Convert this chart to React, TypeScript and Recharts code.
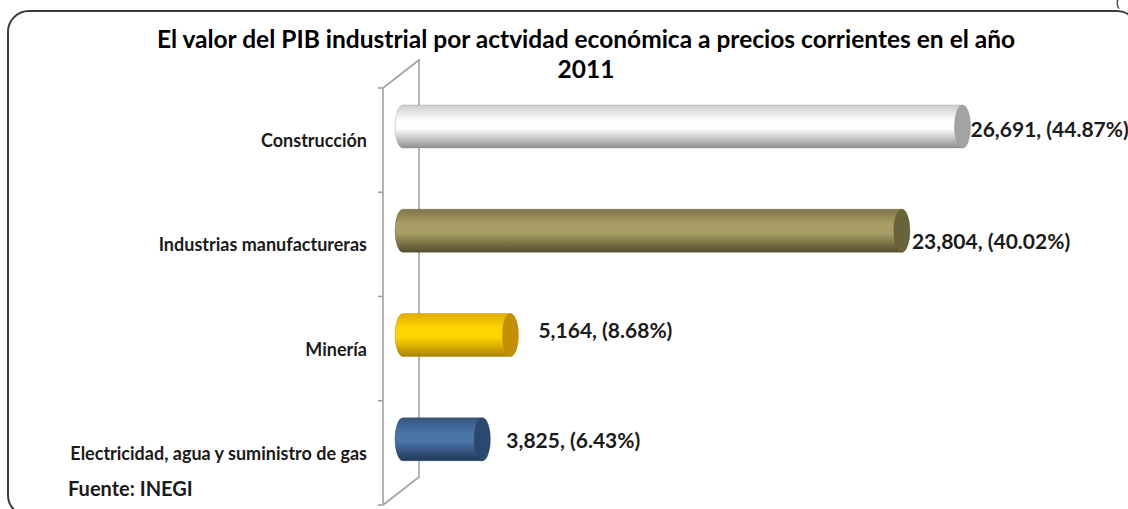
import * as RC from 'recharts';
import { BarChart, Bar, XAxis, YAxis, LabelList } from 'recharts';

// PIB industrial 2011, millones de pesos (INEGI)
const categories = [
  'Construcción',
  'Industrias manufactureras',
  'Minería',
  'Electricidad, agua y suministro de gas',
];
const values = [26691, 23804, 5164, 3825];
const shares = [44.87, 40.02, 8.68, 6.43];
const valueDomain = [0, 30000];

const W = 1128;
const H = 509;
const FONT = 'Lato, "Open Sans", sans-serif';
const TEXT = '#1b1b1b';

// cylinder look per bar: top edge, highlight, bottom edge, end cap
const looks = [
  { top: '#cdcdcd', mid: '#fdfdfd', bottom: '#8f8f8f', cap: '#a3a3a3' },
  { top: '#7f7649', mid: '#a89e65', bottom: '#554f2f', cap: '#6a6238' },
  { top: '#e3ab00', mid: '#ffd500', bottom: '#ad8200', cap: '#c29000' },
  { top: '#34567f', mid: '#4b74a7', bottom: '#1f3858', cap: '#2b4870' },
];

const LIFT = 14; // 3d offset of bars above band centre
const RX = 8;
const labelDx = [0, 2, 20, 16];
const labelDy = [2, 10, -6, 0];

const rows = categories.map((name, i) => ({
  name,
  value: values[i],
  label: `${values[i].toLocaleString('en-US')}, (${shares[i].toFixed(2)}%)`,
}));

function Cylinder(props: any) {
  const { x, y, width, height, index } = props;
  const c = looks[index] ?? looks[0];
  const top = y - LIFT;
  const bottom = top + height;
  const mid = top + height / 2;
  const ry = height / 2;
  const lc = x - RX + 1;
  const rc = x + width - RX;
  const id = `cyl-${index}`;
  return (
    <g>
      <defs>
        <linearGradient id={id} x1="0" y1="0" x2="0" y2="1">
          <stop offset="0%" stopColor={c.top} />
          <stop offset="35%" stopColor={c.mid} />
          <stop offset="55%" stopColor={c.mid} />
          <stop offset="100%" stopColor={c.bottom} />
        </linearGradient>
      </defs>
      <path
        d={`M${lc},${top} L${rc},${top} L${rc},${bottom} L${lc},${bottom} A${RX},${ry} 0 0 1 ${lc},${top} Z`}
        fill={`url(#${id})`}
        stroke={c.bottom}
        strokeOpacity={0.35}
        strokeWidth={1}
      />
      <ellipse cx={rc} cy={mid} rx={RX} ry={ry} fill={c.cap} stroke={c.bottom} strokeOpacity={0.4} strokeWidth={1} />
    </g>
  );
}

function ValueLabel(props: any) {
  const { x, y, width, height, value } = props;
  let index = props.index;
  if (index == null) index = rows.findIndex((r) => r.label === value);
  return (
    <text
      x={x + width + (labelDx[index] ?? 0)}
      y={y + height / 2 - LIFT + (labelDy[index] ?? 0)}
      dominantBaseline="central"
      fontFamily={FONT}
      fontWeight={700}
      fontSize={21}
      fill={TEXT}
    >
      {value}
    </text>
  );
}

function CategoryTick(props: any) {
  const { x, y, payload } = props;
  return (
    <text
      x={x}
      y={y}
      textAnchor="end"
      dominantBaseline="central"
      fontFamily={FONT}
      fontWeight={700}
      fontSize={18}
      fill={TEXT}
    >
      {payload.value}
    </text>
  );
}

// the grey side wall of the 3d chart
function Wall() {
  const usePlot = (RC as any).usePlotArea;
  const plot = usePlot ? usePlot() : null;
  if (!plot) return null;
  const fx = plot.x - 27;
  const bx = plot.x + 9;
  const depth = 28;
  const y0 = plot.y;
  const y1 = plot.y + plot.height;
  const step = plot.height / categories.length;
  const ticks = Array.from({ length: categories.length + 1 }, (_, i) => y0 + i * step);
  return (
    <g stroke="#a3a3a3" strokeWidth={1.6} fill="none">
      <path d={`M${fx},${y1} L${fx},${y0} L${bx},${y0 - depth} L${bx},${y1 - depth} L${fx},${y1}`} />
      {ticks.map((t) => (
        <line key={t} x1={fx - 5} x2={fx} y1={t} y2={t} />
      ))}
    </g>
  );
}

export default function App() {
  return (
    <div style={{ position: 'absolute', left: 0, top: 0, width: W, height: H, overflow: 'hidden', background: '#fff' }}>
      <div
        style={{
          position: 'absolute',
          left: 7,
          top: 10,
          width: 1128,
          height: 503,
          border: '2px solid #3c3c3c',
          borderRadius: 22,
        }}
      />
      <div style={{ position: 'absolute', left: 1116, top: -7, fontFamily: FONT, fontSize: 14, color: TEXT }}>(</div>
      <div
        style={{
          position: 'absolute',
          left: 0,
          width: 1172,
          top: 24,
          textAlign: 'center',
          fontFamily: FONT,
          fontWeight: 700,
          fontSize: 24.5,
          lineHeight: '30px',
          color: '#000',
        }}
      >
        El valor del PIB industrial por actvidad económica a precios corrientes en el año
        <br />
        2011
      </div>
      <div style={{ position: 'absolute', left: 68, top: 476, fontFamily: FONT, fontWeight: 700, fontSize: 20, color: TEXT }}>
        Fuente: INEGI
      </div>
      <div style={{ position: 'absolute', left: 0, top: 0 }}>
        <BarChart
          width={W}
          height={H}
          data={rows}
          layout="vertical"
          margin={{ top: 88, right: 88, bottom: 4, left: 368 }}
        >
          <XAxis type="number" domain={valueDomain} hide />
          <YAxis
            type="category"
            dataKey="name"
            width={42}
            axisLine={false}
            tickLine={false}
            tickSize={0}
            tickMargin={43}
            tick={<CategoryTick />}
            interval={0}
          />
          <Wall />
          <Bar dataKey="value" barSize={43} shape={<Cylinder />} isAnimationActive={false}>
            <LabelList dataKey="label" content={<ValueLabel />} />
          </Bar>
        </BarChart>
      </div>
    </div>
  );
}
